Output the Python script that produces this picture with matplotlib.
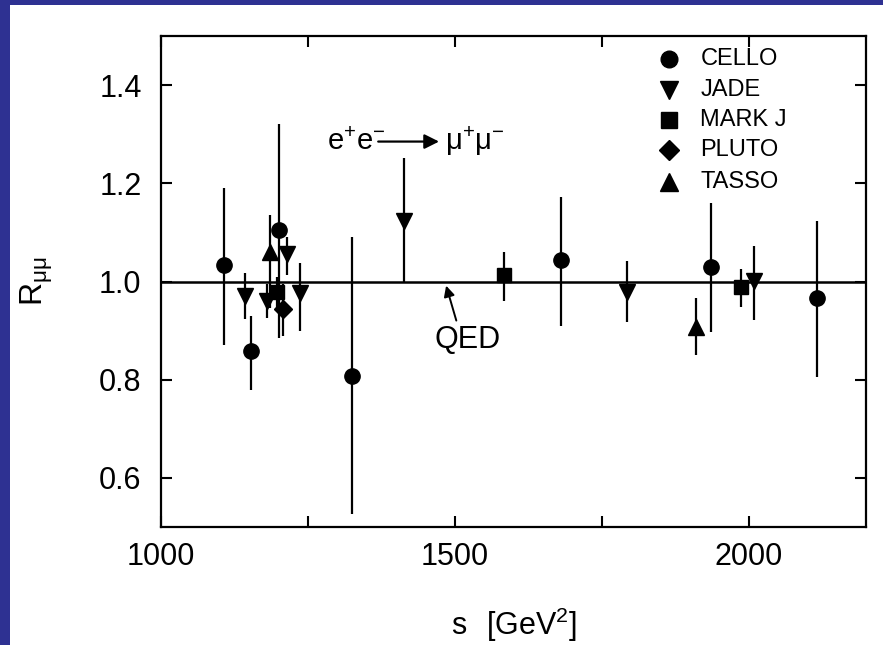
import matplotlib
matplotlib.use('Agg')
import matplotlib.pyplot as plt
from matplotlib.patches import Rectangle

plt.rcParams['font.family'] = ['Liberation Sans', 'DejaVu Sans']
plt.rcParams['mathtext.default'] = 'regular'

# R_mumu vs s
cello_s = [1107, 1154, 1200, 1325, 1681, 1936, 2116]
cello_r = [1.034, 0.859, 1.104, 0.808, 1.044, 1.030, 0.966]
cello_lo = [0.870, 0.780, 0.885, 0.526, 0.910, 0.898, 0.805]
cello_hi = [1.190, 0.930, 1.320, 1.090, 1.172, 1.159, 1.124]

jade_s = [1143, 1180, 1214, 1237, 1413, 1793, 2010]
jade_r = [0.970, 0.960, 1.057, 0.976, 1.124, 0.978, 1.002]
jade_lo = [0.923, 0.925, 1.013, 0.899, 1.000, 0.917, 0.921]
jade_hi = [1.017, 0.995, 1.091, 1.037, 1.252, 1.042, 1.073]

markj_s = [1197, 1584, 1988]
markj_r = [0.978, 1.013, 0.988]
markj_lo = [0.940, 0.960, 0.948]
markj_hi = [1.010, 1.061, 1.025]

pluto_s = [1208]
pluto_r = [0.943]
pluto_lo = [0.890]
pluto_hi = [0.995]

tasso_s = [1185, 1910]
tasso_r = [1.061, 0.908]
tasso_lo = [0.946, 0.850]
tasso_hi = [1.135, 0.967]

experiments = ['CELLO', 'JADE', 'MARK J', 'PLUTO', 'TASSO']
markers = ['o', 'v', 's', 'D', '^']
sizes = [11, 12, 10, 9, 12]

series = [
    (cello_s, cello_r, cello_lo, cello_hi),
    (jade_s, jade_r, jade_lo, jade_hi),
    (markj_s, markj_r, markj_lo, markj_hi),
    (pluto_s, pluto_r, pluto_lo, pluto_hi),
    (tasso_s, tasso_r, tasso_lo, tasso_hi),
]

fig = plt.figure(figsize=(8.83, 6.45), dpi=100)
fig.patch.set_facecolor('#2E3192')
fig.patches.append(Rectangle((10 / 883, 0), 873 / 883, 640 / 645,
                             transform=fig.transFigure, facecolor='white',
                             edgecolor='none', zorder=-10))

ax = fig.add_axes([161 / 883, 118 / 645, 705 / 883, 491 / 645])
ax.set_zorder(5)

# QED expectation
ax.axhline(1.0, color='black', lw=1.8, zorder=1)

for (s, r, lo, hi), m, ms in zip(series, markers, sizes):
    err = [[ri - l for ri, l in zip(r, lo)], [h - ri for ri, h in zip(r, hi)]]
    ax.errorbar(s, r, yerr=err, fmt=m, color='black', ms=ms, elinewidth=1.6,
                capsize=0, zorder=3)

ax.set_xlim(1000, 2200)
ax.set_ylim(0.5, 1.5)
ax.set_xticks([1000, 1250, 1500, 1750, 2000])
ax.set_xticklabels(['1000', '', '1500', '', '2000'])
ax.set_yticks([0.6, 0.8, 1.0, 1.2, 1.4])
ax.set_yticklabels(['0.6', '0.8', '1.0', '1.2', '1.4'])
ax.tick_params(direction='in', length=8, width=1.5, top=True, right=True,
               labelsize=22)
ax.tick_params(axis='x', pad=11)
ax.tick_params(axis='y', pad=14)
for sp in ax.spines.values():
    sp.set_linewidth(1.6)

ax.set_xlabel(r'$s\ \ [GeV^{2}]$', fontsize=22, labelpad=24)
ax.set_ylabel(r'$R_{\mu\mu}$', fontsize=23)
ax.yaxis.set_label_coords(-0.15, 0.50)

# reaction label
ax.text(1283, 1.285, r'$e^{+}e^{-}$', fontsize=21, va='center', ha='left')
ax.annotate('', xy=(1478, 1.285), xytext=(1365, 1.285),
            arrowprops=dict(arrowstyle='-|>', color='black', lw=1.6,
                            mutation_scale=22))
ax.text(1484, 1.285, r'$\mu^{+}\mu^{-}$', fontsize=21, va='center', ha='left')

# QED label with pointer
ax.text(1522, 0.88, 'QED', fontsize=22, ha='center', va='center')
ax.annotate('', xy=(1484, 0.997), xytext=(1504, 0.915),
            arrowprops=dict(arrowstyle='-|>', color='black', lw=1.4,
                            mutation_scale=16))

# legend drawn by hand
leg_y = [0.953, 0.890, 0.829, 0.768, 0.703]
for name, m, ms, yy in zip(experiments, markers, sizes, leg_y):
    ax.plot([0.72], [yy], marker=m, color='black', ms=ms + 1,
            transform=ax.transAxes, clip_on=False)
    ax.text(0.765, yy, name, fontsize=17, va='center', ha='left',
            transform=ax.transAxes)

fig.savefig('out.png', dpi=100, facecolor=fig.get_facecolor())
